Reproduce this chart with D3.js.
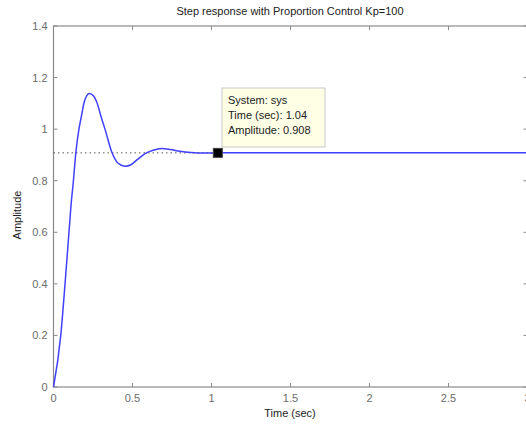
<!DOCTYPE html>
<html><head><meta charset="utf-8">
<script src="https://cdn.jsdelivr.net/npm/d3@7"></script>
<style>
html,body{margin:0;padding:0;background:#fff;}
svg{display:block;font-family:"Liberation Sans",Arial,sans-serif;}
</style></head>
<body>
<svg id="chart" width="526" height="428"></svg>
<script>
const title = "Step response with Proportion Control Kp=100";
const xLabel = "Time (sec)";
const yLabel = "Amplitude";
const timeVals = [0, 0.046, 0.073, 0.098, 0.111, 0.126, 0.142, 0.161, 0.174, 0.195, 0.227, 0.255, 0.273, 0.305, 0.326, 0.368, 0.40, 0.43, 0.457, 0.49, 0.53, 0.58, 0.63, 0.685, 0.74, 0.80, 0.87, 0.95, 1.04, 1.5, 2, 2.5, 3];
const ampVals  = [0, 0.2, 0.4, 0.6, 0.705, 0.8, 0.912, 1.0, 1.042, 1.106, 1.138, 1.128, 1.106, 1.04, 1.0, 0.912, 0.873, 0.86, 0.856, 0.862, 0.882, 0.905, 0.918, 0.925, 0.921, 0.914, 0.909, 0.907, 0.908, 0.908, 0.908, 0.908, 0.908];
const xTicks = [0, 0.5, 1, 1.5, 2, 2.5, 3];
const yTicks = [0, 0.2, 0.4, 0.6, 0.8, 1, 1.2, 1.4];
const finalValue = 0.908;
const tipTime = 1.04, tipAmp = 0.908;
const tipLines = ["System: sys", "Time (sec): 1.04", "Amplitude: 0.908"];

const svg = d3.select("#chart");
const L = 53.5, R = 527.5, T = 26, B = 387;
const x = d3.scaleLinear().domain([0, 3]).range([L, R]);
const y = d3.scaleLinear().domain([0, 1.4]).range([B, T]);
const axisCol = "#8a8a8a", labCol = "#6b6b6b";

// box
svg.append("rect").attr("x", L).attr("y", T).attr("width", R - L).attr("height", B - T)
  .attr("fill", "#fff").attr("stroke", axisCol).attr("stroke-width", 1.2);

// ticks inward on all sides
const tl = 4;
xTicks.forEach(v => {
  svg.append("line").attr("x1", x(v)).attr("x2", x(v)).attr("y1", B).attr("y2", B - tl).attr("stroke", axisCol);
  svg.append("line").attr("x1", x(v)).attr("x2", x(v)).attr("y1", T).attr("y2", T + tl).attr("stroke", axisCol);
  svg.append("text").attr("x", x(v)).attr("y", B + 15).attr("text-anchor", "middle")
    .attr("font-size", 11).attr("fill", labCol).text(d3.format("")(v));
});
yTicks.forEach(v => {
  svg.append("line").attr("x1", L).attr("x2", L + tl).attr("y1", y(v)).attr("y2", y(v)).attr("stroke", axisCol);
  svg.append("line").attr("x1", R).attr("x2", R - tl).attr("y1", y(v)).attr("y2", y(v)).attr("stroke", axisCol);
  svg.append("text").attr("x", L - 6).attr("y", y(v) + 4).attr("text-anchor", "end")
    .attr("font-size", 11).attr("fill", labCol).text(d3.format("")(v));
});

// title and labels
svg.append("text").attr("x", 290).attr("y", 15).attr("text-anchor", "middle")
  .attr("font-size", 11).attr("fill", "#222").text(title);
svg.append("text").attr("x", 290).attr("y", 417).attr("text-anchor", "middle")
  .attr("font-size", 11).attr("fill", "#222").text(xLabel);
svg.append("text").attr("transform", "translate(21," + 215 + ") rotate(-90)").attr("text-anchor", "middle")
  .attr("font-size", 11).attr("fill", "#222").text(yLabel);

// dotted final value line
svg.append("line").attr("x1", x(0)).attr("x2", x(tipTime)).attr("y1", y(finalValue)).attr("y2", y(finalValue))
  .attr("stroke", "#555").attr("stroke-width", 1).attr("stroke-dasharray", "1.5,3");

// curve
const pts = timeVals.map((t, i) => [t, ampVals[i]]);
const line = d3.line().x(d => x(d[0])).y(d => y(d[1])).curve(d3.curveMonotoneX);
svg.append("path").attr("d", line(pts)).attr("fill", "none").attr("stroke", "#4040ff").attr("stroke-width", 1.5);

// marker
svg.append("rect").attr("x", x(tipTime) - 4.5).attr("y", y(tipAmp) - 4.5).attr("width", 9).attr("height", 9)
  .attr("fill", "#000").attr("stroke", "#444").attr("stroke-width", 1);

// data tip box
const bx = 222, by = 88, bw = 103, bh = 59;
svg.append("rect").attr("x", bx).attr("y", by).attr("width", bw).attr("height", bh)
  .attr("fill", "#ffffe6").attr("stroke", "#c8c8c8").attr("stroke-width", 1);
tipLines.forEach((s, i) => {
  svg.append("text").attr("x", bx + 6).attr("y", by + 16 + i * 15).attr("font-size", 11)
    .attr("fill", "#222").text(s);
});
</script>
</body></html>
